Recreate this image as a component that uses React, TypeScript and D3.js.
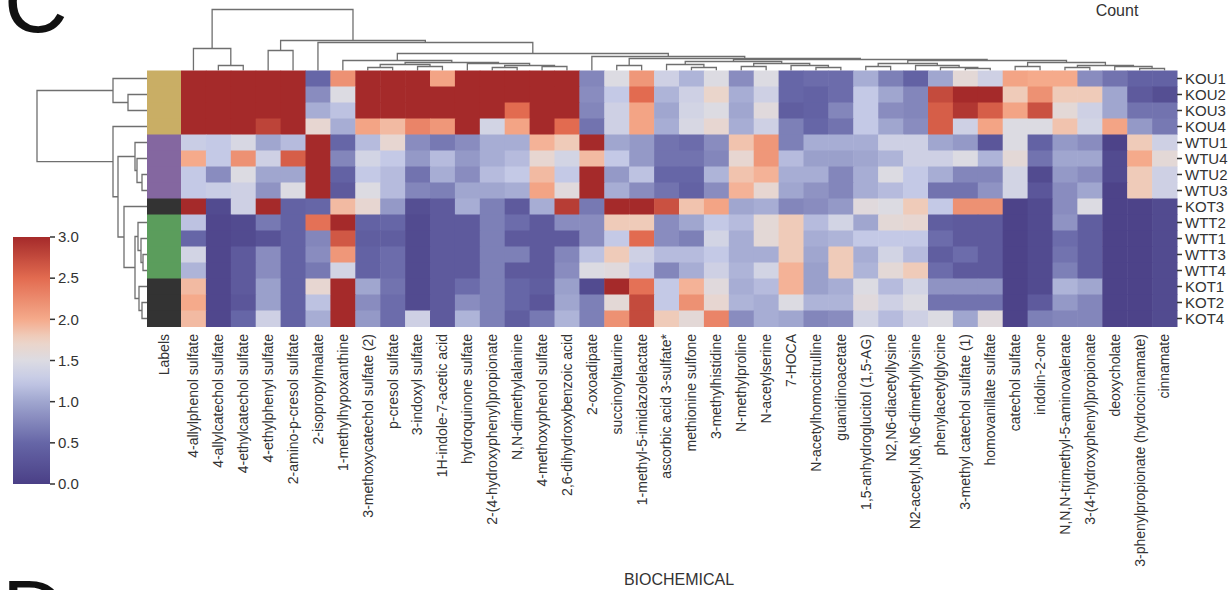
import React from "react";
import * as d3 from "d3";

// Column (biochemical) order as drawn by the clustering
const biochemicals = [
  "4-allylphenol sulfate", "4-allylcatechol sulfate", "4-ethylcatechol sulfate", "4-ethylphenyl sulfate",
  "2-amino-p-cresol sulfate", "2-isopropylmalate", "1-methylhypoxanthine", "3-methoxycatechol sulfate (2)",
  "p-cresol sulfate", "3-indoxyl sulfate", "1H-indole-7-acetic acid", "hydroquinone sulfate",
  "2-(4-hydroxyphenyl)propionate", "N,N-dimethylalanine", "4-methoxyphenol sulfate", "2,6-dihydroxybenzoic acid",
  "2-oxoadipate", "succinoyltaurine", "1-methyl-5-imidazolelactate", "ascorbic acid 3-sulfate*",
  "methionine sulfone", "3-methylhistidine", "N-methylproline", "N-acetylserine",
  "7-HOCA", "N-acetylhomocitrulline", "guanidinoacetate", "1,5-anhydroglucitol (1,5-AG)",
  "N2,N6-diacetyllysine", "N2-acetyl,N6,N6-dimethyllysine", "phenylacetylglycine", "3-methyl catechol sulfate (1)",
  "homovanillate sulfate", "catechol sulfate", "indolin-2-one", "N,N,N-trimethyl-5-aminovalerate",
  "3-(4-hydroxyphenyl)propionate", "deoxycholate", "3-phenylpropionate (hydrocinnamate)", "cinnamate",
];

// Row (sample) order and group of each sample
const samples = ["KOU1", "KOU2", "KOU3", "KOU4", "WTU1", "WTU4", "WTU2", "WTU3",
  "KOT3", "WTT2", "WTT1", "WTT3", "WTT4", "KOT1", "KOT2", "KOT4"];
const sampleGroups = ["KOU", "KOU", "KOU", "KOU", "WTU", "WTU", "WTU", "WTU",
  "KOT", "WTT", "WTT", "WTT", "WTT", "KOT", "KOT", "KOT"];

// Scaled counts per sample, one value per biochemical (same order as above)
const KOU1 = [3, 3, 3, 3, 3, 0.5, 2.2, 3, 3, 3, 2.05, 3, 3, 3, 3, 3, 0.75, 1.5, 2.15, 1.35, 1.1, 1.5, 0.8, 1.5, 0.5, 0.55, 0.55, 1.05, 0.7, 0.45, 1.0, 1.6, 1.35, 2.05, 2.0, 2.0, 0.8, 0.6, 0.45, 0.45];
const KOU2 = [3, 3, 3, 3, 3, 0.8, 1.5, 3, 3, 3, 3, 3, 3, 3, 3, 3, 0.8, 1.25, 2.5, 1.1, 1.35, 1.7, 1.05, 1.35, 0.5, 0.45, 0.55, 1.25, 1.0, 0.75, 2.75, 3, 3, 1.8, 2.2, 1.8, 1.8, 1.0, 0.35, 0.2];
const KOU3 = [3, 3, 3, 3, 3, 1.05, 1.2, 3, 3, 3, 3, 3, 3, 2.5, 3, 3, 0.75, 1.35, 2.05, 1.0, 1.4, 1.5, 1.0, 1.55, 0.4, 0.45, 0.75, 1.25, 0.8, 0.75, 2.6, 2.9, 2.6, 2.05, 2.7, 1.6, 1.35, 1.0, 0.6, 0.6];
const KOU4 = [3, 3, 3, 2.8, 3, 1.65, 1.05, 2.05, 1.9, 2.3, 2.15, 3, 1.4, 2.05, 3, 2.5, 0.6, 1.35, 2.05, 1.05, 1.45, 1.65, 1.05, 1.35, 0.7, 0.5, 0.6, 1.25, 1.0, 0.8, 2.6, 1.35, 2.05, 1.5, 1.5, 1.85, 1.4, 2.05, 0.9, 0.65];
const WTU1 = [1.3, 1.25, 1.45, 1.0, 1.15, 3, 0.5, 1.15, 1.65, 0.8, 0.65, 0.8, 1.05, 1.05, 1.95, 1.8, 3, 1.0, 0.9, 0.6, 0.55, 0.8, 1.85, 2.15, 0.7, 1.05, 1.05, 1.05, 1.35, 1.35, 1.0, 0.9, 0.3, 1.5, 0.45, 0.9, 0.8, 0.05, 1.8, 1.35];
const WTU4 = [2.0, 1.25, 2.2, 1.35, 2.6, 3, 0.75, 1.4, 1.25, 0.9, 1.15, 0.9, 1.05, 1.15, 1.65, 1.4, 1.9, 1.25, 0.9, 0.6, 0.6, 0.75, 1.65, 2.15, 1.15, 0.95, 0.95, 1.0, 1.1, 1.35, 1.35, 1.5, 1.1, 1.6, 0.6, 1.0, 1.0, 0.15, 2.0, 1.6];
const WTU2 = [1.25, 0.8, 1.5, 1.0, 1.0, 3, 0.45, 1.25, 1.15, 0.6, 1.05, 0.8, 1.15, 1.25, 1.9, 1.25, 3, 0.9, 1.2, 0.5, 0.5, 1.1, 1.85, 1.95, 1.05, 1.05, 0.75, 1.05, 1.5, 1.25, 1.05, 0.75, 0.75, 1.4, 0.15, 0.9, 0.8, 0.15, 1.8, 1.35];
const WTU3 = [1.25, 1.3, 1.35, 0.85, 1.5, 3, 0.35, 1.5, 1.15, 0.75, 0.7, 1.0, 1.0, 1.05, 2.05, 1.55, 3, 1.05, 0.8, 0.6, 0.45, 0.8, 1.95, 1.65, 1.0, 0.85, 0.75, 1.05, 1.15, 1.25, 0.6, 0.6, 0.85, 1.4, 0.3, 0.8, 1.0, 0.05, 1.8, 1.35];
const KOT3 = [3, 0.15, 1.35, 3, 0.45, 0.5, 1.9, 1.65, 0.9, 0.2, 0.35, 1.05, 0.7, 0.35, 1.05, 2.85, 0.65, 3, 3, 2.7, 1.85, 2.05, 1.0, 1.05, 0.75, 0.8, 0.9, 1.55, 1.5, 1.8, 1.25, 2.2, 2.2, 0.05, 0.15, 0.8, 1.5, 0.05, 0.05, 0.15];
const WTT2 = [1.2, 0.1, 0.15, 0.65, 0.45, 2.45, 3, 0.45, 0.5, 0.15, 0.35, 0.35, 0.7, 0.55, 0.35, 0.8, 0.8, 1.8, 1.8, 0.8, 1.0, 1.25, 1.15, 1.6, 1.8, 1.15, 1.4, 1.0, 1.6, 1.65, 0.4, 0.35, 0.35, 0.05, 0.15, 0.85, 0.4, 0.05, 0.05, 0.15];
const WTT1 = [0.5, 0.1, 0.15, 0.25, 0.45, 0.75, 2.65, 0.4, 0.4, 0.15, 0.35, 0.35, 0.7, 0.35, 0.35, 0.35, 0.8, 1.25, 2.5, 0.8, 0.7, 1.4, 1.05, 1.6, 1.8, 1.05, 1.1, 1.25, 1.25, 1.25, 0.55, 0.35, 0.35, 0.05, 0.15, 0.55, 0.4, 0.05, 0.05, 0.15];
const WTT3 = [1.4, 0.1, 0.35, 0.8, 0.45, 0.8, 2.15, 0.45, 0.55, 0.15, 0.35, 0.35, 0.7, 0.7, 0.35, 0.75, 1.2, 1.8, 1.35, 1.15, 1.15, 1.25, 1.05, 1.05, 1.8, 1.0, 1.8, 1.05, 1.4, 1.15, 0.4, 0.55, 0.35, 0.05, 0.15, 0.6, 0.4, 0.05, 0.05, 0.15];
const WTT4 = [1.1, 0.1, 0.35, 0.8, 0.45, 0.65, 1.4, 0.45, 0.55, 0.15, 0.35, 0.35, 0.7, 0.35, 0.35, 0.8, 1.5, 1.55, 1.25, 0.75, 1.05, 1.35, 1.1, 1.4, 1.95, 0.95, 1.8, 1.1, 1.6, 1.8, 0.55, 0.35, 0.35, 0.05, 0.15, 0.7, 0.4, 0.05, 0.05, 0.15];
const KOT1 = [1.9, 0.1, 0.35, 0.95, 0.45, 1.65, 3, 1.0, 0.6, 0.15, 0.35, 0.55, 0.7, 0.5, 0.4, 0.95, 0.15, 3, 2.45, 1.25, 1.95, 1.55, 1.05, 1.15, 1.95, 0.95, 1.05, 1.5, 1.15, 1.4, 0.85, 0.85, 0.85, 0.05, 0.15, 1.1, 1.0, 0.05, 0.05, 0.15];
const KOT2 = [2.0, 0.1, 0.3, 0.95, 0.45, 1.2, 3, 0.8, 0.55, 0.15, 0.35, 0.8, 0.7, 0.5, 0.3, 1.0, 0.7, 1.6, 2.75, 1.25, 2.2, 1.65, 1.1, 1.05, 1.5, 1.1, 1.1, 1.55, 1.35, 1.5, 0.6, 0.6, 0.6, 0.05, 0.35, 0.9, 0.75, 0.05, 0.05, 0.15];
const KOT4 = [1.9, 0.1, 0.5, 1.35, 0.45, 1.05, 3, 0.9, 0.55, 1.35, 0.35, 1.1, 0.7, 0.4, 0.65, 1.1, 0.7, 2.2, 2.75, 1.8, 1.6, 2.3, 0.8, 1.05, 1.0, 0.75, 0.8, 1.4, 1.15, 1.35, 1.5, 1.0, 1.55, 0.05, 0.7, 0.75, 0.75, 0.05, 0.05, 0.15];

const countRows = [KOU1, KOU2, KOU3, KOU4, WTU1, WTU4, WTU2, WTU3, KOT3, WTT2, WTT1, WTT3, WTT4, KOT1, KOT2, KOT4];

const groupColors: Record<string, string> = {
  KOU: "#c9ae65",
  WTU: "#8467a0",
  WTT: "#5b9d5c",
  KOT: "#333333",
};

// Diverging colour map for the scaled counts
const colorStops = [0, 0.5, 1.0, 1.25, 1.5, 1.75, 2.0, 2.5, 3.0];
const colorRange = ["#4a3f86", "#6666a7", "#a0a6cf", "#c4c9e6", "#dcdbe2", "#eed3c5", "#f5aa8b", "#e26b50", "#a52a2a"];
const colorbarTicks = [0, 0.5, 1.0, 1.5, 2.0, 2.5, 3.0];

// Linkage trees: [merge height, left, right]; leaves are row / column indices
type Tree = number | [number, Tree, Tree];

const sampleTree: Tree = [110,
  [34, 0, [19, 1, 2]],
  [34, 3,
    [29,
      [12, 4, [10, 5, [5, 6, 7]]],
      [23, 8, [12, [9, 9, [6, 10, [4, 11, 12]]], [8, 13, [5, 14, 15]]]]]]];

const biochemicalTree: Tree = [61,
  [22, 0, [5, 1, 2]],
  [30,
    [20, 3, 4],
    [28, 5,
      [17,
        [10, 6, [8, [6, [3, 7, 8], [4, 9, 10]], [7, 11, [5, [3, 12, 13], [4, 14, 15]]]]],
        [14, 16,
          [12, [5, 17, 18],
            [11,
              [9, [6, 19, [3, 20, 21]], [7, [4, 22, 23], [5, 24, [3, 25, 26]]]],
              [10,
                [7, [4, 27, 28], [5, 29, [3, 30, [2, 31, 32]]]],
                [8, [4, 33, 34], [5, [3, 35, 36], [4, 37, [2, 38, 39]]]]]]]]]]]];

const FONT = "'Liberation Sans', Arial, Helvetica, sans-serif";
const TEXT = "#333333";

// Walk a linkage tree, returning the elbow paths of every merge
function dendrogramPaths(
  tree: Tree,
  leafPos: (i: number) => number,
  level: (h: number) => number,
  vertical: boolean,
): string[] {
  const paths: string[] = [];
  const walk = (t: Tree): { pos: number; h: number } => {
    if (typeof t === "number") return { pos: leafPos(t), h: 0 };
    const [h, l, r] = t;
    const a = walk(l);
    const b = walk(r);
    if (vertical) {
      paths.push(`M${a.pos},${level(a.h)}V${level(h)}H${b.pos}V${level(b.h)}`);
    } else {
      paths.push(`M${level(a.h)},${a.pos}H${level(h)}V${b.pos}H${level(b.h)}`);
    }
    return { pos: (a.pos + b.pos) / 2, h };
  };
  walk(tree);
  return paths;
}

export default function App() {
  const W = 1231;
  const H = 590;

  const x = d3.scaleBand<number>().domain(d3.range(biochemicals.length)).range([181, 1177]);
  const y = d3.scaleBand<number>().domain(d3.range(samples.length)).range([70.5, 326.5]);
  const color = d3.scaleLinear<string>().domain(colorStops).range(colorRange).clamp(true);

  const labelX0 = 147;
  const labelX1 = 181;

  const colLevel = d3.scaleLinear().domain([0, 61]).range([70.5, 9.5]);
  const rowLevel = d3.scaleLinear().domain([0, 110]).range([labelX0, 37]);

  const colPaths = dendrogramPaths(biochemicalTree, (i) => x(i)! + x.bandwidth() / 2, colLevel, true);
  const rowPaths = dendrogramPaths(sampleTree, (i) => y(i)! + y.bandwidth() / 2, rowLevel, false);

  const cbar = d3.scaleLinear().domain([0, 3]).range([484, 237]);
  const cbarX = 13;
  const cbarW = 37;
  const gradStops = d3.range(0, 3.0001, 0.1);

  return (
    <svg
      width={W}
      height={H}
      viewBox={`0 0 ${W} ${H}`}
      style={{ position: "absolute", left: 0, top: 0, background: "#ffffff" }}
      fontFamily={FONT}
    >
      <defs>
        <linearGradient id="countGradient" x1="0" y1="1" x2="0" y2="0">
          {gradStops.map((v) => (
            <stop key={v} offset={`${(v / 3) * 100}%`} stopColor={color(v)} />
          ))}
        </linearGradient>
      </defs>

      {/* Panel letters */}
      <text x={4} y={32} fontSize={88} fill="#111111">C</text>
      <text x={2} y={641} fontSize={88} fill="#111111">D</text>

      {/* Dendrograms */}
      <g fill="none" stroke="#6f6f6f" strokeWidth={1.3}>
        {colPaths.map((p, i) => <path key={`c${i}`} d={p} />)}
        {rowPaths.map((p, i) => <path key={`r${i}`} d={p} />)}
      </g>

      {/* Group colour strip */}
      {samples.map((s, i) => (
        <rect
          key={`g${s}`}
          x={labelX0}
          y={y(i)!}
          width={labelX1 - labelX0}
          height={y.bandwidth() + 0.5}
          fill={groupColors[sampleGroups[i]]}
        />
      ))}

      {/* Heatmap cells */}
      {countRows.map((row, ri) =>
        row.map((v, ci) => (
          <rect
            key={`${ri}-${ci}`}
            x={x(ci)!}
            y={y(ri)!}
            width={x.bandwidth() + 0.5}
            height={y.bandwidth() + 0.5}
            fill={color(v)}
          />
        )),
      )}

      {/* Row labels */}
      {samples.map((s, i) => {
        const cy = y(i)! + y.bandwidth() / 2;
        return (
          <g key={`rl${s}`}>
            <line x1={1177} x2={1182} y1={cy} y2={cy} stroke={TEXT} strokeWidth={1.5} />
            <text x={1185} y={cy} dy="0.35em" fontSize={15} fill={TEXT}>{s}</text>
          </g>
        );
      })}

      {/* Column labels */}
      <text
        transform={`translate(${(labelX0 + labelX1) / 2},334) rotate(-90)`}
        textAnchor="end"
        dy="0.35em"
        fontSize={14}
        fill={TEXT}
      >
        Labels
      </text>
      {biochemicals.map((b, i) => (
        <text
          key={`cl${i}`}
          transform={`translate(${x(i)! + x.bandwidth() / 2},334) rotate(-90)`}
          textAnchor="end"
          dy="0.35em"
          fontSize={14}
          fill={TEXT}
        >
          {b}
        </text>
      ))}

      <text x={(labelX1 + 1177) / 2} y={585} textAnchor="middle" fontSize={16} fill={TEXT}>
        BIOCHEMICAL
      </text>

      {/* Colour bar */}
      <rect x={cbarX} y={cbar(3)} width={cbarW} height={cbar(0) - cbar(3)} fill="url(#countGradient)" />
      {colorbarTicks.map((t) => (
        <g key={`cb${t}`}>
          <line x1={cbarX + cbarW} x2={cbarX + cbarW + 5} y1={cbar(t)} y2={cbar(t)} stroke={TEXT} strokeWidth={1.5} />
          <text x={cbarX + cbarW + 8} y={cbar(t)} dy="0.35em" fontSize={15} fill={TEXT}>
            {d3.format(".1f")(t)}
          </text>
        </g>
      ))}
      <text x={1117} y={16} textAnchor="middle" fontSize={16} fill={TEXT}>Count</text>
    </svg>
  );
}
